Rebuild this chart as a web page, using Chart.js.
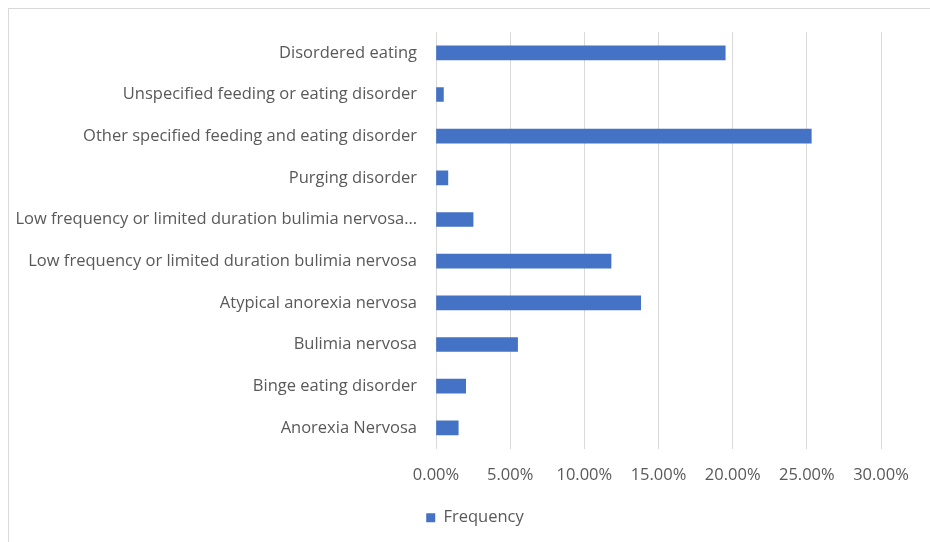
<!DOCTYPE html>
<html>
<head>
<meta charset="utf-8">
<script src="https://cdn.jsdelivr.net/npm/chart.js@4.4.1/dist/chart.umd.min.js"></script>
<style>
    html, body { margin: 0; padding: 0; background: #fff; overflow: hidden; }
    #frame {
        position: absolute;
        left: 8px;
        top: 8px;
        width: 934px;
        height: 540px;
        border-top: 1px solid #d9d9d9;
        border-left: 1px solid #d9d9d9;
    }
</style>
</head>
<body>
<div id="frame"><canvas id="eatingChart" width="934" height="534"></canvas></div>
<script>
const categories = [
    "Disordered eating",
    "Unspecified feeding or eating disorder",
    "Other specified feeding and eating disorder",
    "Purging disorder",
    "Low frequency or limited duration bulimia nervosa…",
    "Low frequency or limited duration bulimia nervosa",
    "Atypical anorexia nervosa",
    "Bulimia nervosa",
    "Binge eating disorder",
    "Anorexia Nervosa",
];
const frequency = [19.5, 0.5, 25.3, 0.8, 2.5, 11.8, 13.8, 5.5, 2.0, 1.5];
const xTicks = [0, 5, 10, 15, 20, 25, 30];

const font = { family: "'Open Sans', sans-serif", size: 16.5 };

// the legend in the original sits centred under the whole (wider) chart box
const shiftLegend = {
    id: "shiftLegend",
    afterLayout(chart) {
        chart.legend.left = 60;
    },
};

new Chart(document.getElementById("eatingChart"), {
    type: "bar",
    data: {
        labels: categories,
        datasets: [
            {
                label: "Frequency",
                data: frequency,
                backgroundColor: "#4472c4",
                borderWidth: 0,
                barThickness: 14,
            },
        ],
    },
    options: {
        indexAxis: "y",
        responsive: false,
        animation: false,
        layout: {
            padding: { top: 23, right: 62, left: 0, bottom: 7 },
        },
        plugins: {
            legend: {
                position: "bottom",
                labels: {
                    color: "#595959",
                    font: font,
                    boxWidth: 9,
                    boxHeight: 9,
                    padding: 7,
                },
            },
            tooltip: { enabled: false },
        },
        scales: {
            x: {
                min: 0,
                max: 30,
                afterBuildTicks: (axis) => {
                    axis.ticks = xTicks.map((v) => ({ value: v }));
                },
                grid: { color: "#d9d9d9", drawTicks: false },
                border: { display: false },
                ticks: {
                    color: "#595959",
                    font: font,
                    padding: 17,
                    callback: (v) => v.toFixed(2) + "%",
                },
            },
            y: {
                grid: { display: false },
                border: { display: false },
                afterFit: (axis) => {
                    axis.width = 427;
                },
                ticks: {
                    color: "#595959",
                    font: font,
                    padding: 11,
                },
            },
        },
    },
    plugins: [shiftLegend],
});
</script>
</body>
</html>
